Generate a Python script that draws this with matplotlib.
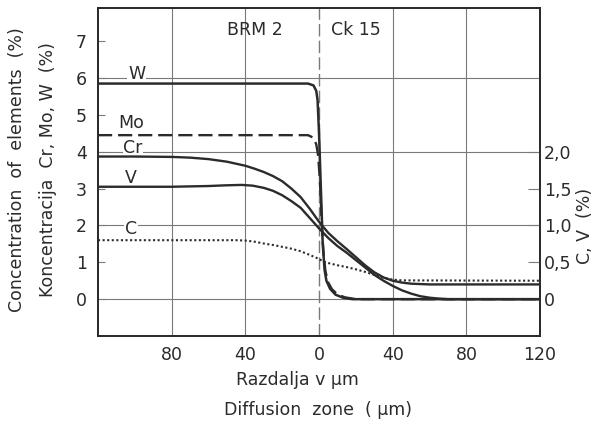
import numpy as np
import matplotlib.pyplot as plt

# distance from the interface (um), negative side = BRM 2, positive = Ck 15
w_x = [-120, -10, -6, -3, -1.5, -0.8, 0, 1, 2, 3, 4, 6, 9, 13, 18, 120]
w_y = [5.85, 5.85, 5.85, 5.8, 5.65, 5.4, 4.5, 3.0, 1.5, 0.8, 0.5, 0.28, 0.12, 0.04, 0.0, 0.0]

mo_x = [-120, -6, -3, -1.5, -0.5, 0.5, 1.5, 2.5, 3.5, 5, 7, 10, 14, 20, 120]
mo_y = [4.45, 4.45, 4.38, 4.2, 3.9, 3.2, 2.0, 1.2, 0.75, 0.45, 0.27, 0.13, 0.05, 0.0, 0.0]

cr_x = [-120, -100, -80, -70, -60, -50, -40, -35, -30, -25, -20, -15, -10, -5, 0, 5, 10,
        15, 20, 25, 30, 35, 40, 45, 50, 60, 120]
cr_y = [3.87, 3.87, 3.86, 3.84, 3.80, 3.73, 3.62, 3.54, 3.45, 3.34, 3.2, 3.0, 2.77, 2.45, 2.1,
        1.8, 1.57, 1.36, 1.14, 0.92, 0.73, 0.59, 0.5, 0.45, 0.42, 0.40, 0.40]

# V and C in % on the right-hand scale
v_x = [-120, -80, -60, -50, -42, -36, -30, -25, -20, -15, -10, -5, 0, 5, 10, 15, 20, 25,
       30, 35, 40, 45, 50, 55, 60, 65, 70, 120]
v_y = [1.525, 1.525, 1.535, 1.545, 1.55, 1.54, 1.51, 1.47, 1.41, 1.33, 1.24, 1.1, 0.96,
       0.83, 0.72, 0.63, 0.53, 0.43, 0.33, 0.25, 0.18, 0.12, 0.075, 0.04, 0.02, 0.008, 0.0, 0.0]

c_x = [-120, -45, -40, -35, -30, -25, -20, -15, -10, -5, 0, 2, 5, 10, 15, 20, 25, 30, 35,
       40, 45, 120]
c_y = [0.8, 0.8, 0.795, 0.78, 0.755, 0.735, 0.71, 0.685, 0.65, 0.6, 0.545, 0.515, 0.49,
       0.46, 0.435, 0.405, 0.37, 0.33, 0.29, 0.265, 0.255, 0.25]

x_ticks = [-80, -40, 0, 40, 80, 120]
x_ticklabels = ["80", "40", "0", "40", "80", "120"]
left_ticks = [0, 1, 2, 3, 4, 5, 6, 7]
right_ticks = [0, 0.5, 1.0, 1.5, 2.0]
right_ticklabels = ["0", "0,5", "1,0", "1,5", "2,0"]

ink = "#2b2b2b"
grid_col = "#7a7a7a"

plt.rcParams['font.family'] = ['DejaVu Sans']

fig = plt.figure(figsize=(5.95, 4.24), dpi=100)
ax = fig.add_axes([0.1647, 0.2075, 0.743, 0.7736])
ax.set_xlim(-120, 120)
ax.set_ylim(-1, 7.9)

# grid
for gx in [-80, -40, 40, 80]:
    ax.axvline(gx, color=grid_col, lw=0.8, zorder=0)
for gy in [0, 2, 4, 6]:
    ax.axhline(gy, color=grid_col, lw=0.8, zorder=0)
ax.axvline(0, color=grid_col, lw=1.0, ls=(0, (9, 3)), zorder=0)

ax.plot(w_x, w_y, color=ink, lw=1.8, zorder=3)
ax.plot(mo_x, mo_y, color=ink, lw=1.7, ls=(0, (6, 2.5)), zorder=3)
ax.plot(cr_x, cr_y, color=ink, lw=1.7, zorder=3)

ax2 = ax.twinx()
ax2.set_ylim(-0.5, 3.95)
ax2.plot(v_x, v_y, color=ink, lw=1.7, zorder=3)
ax2.plot(c_x, c_y, color=ink, lw=1.5, ls=(0, (1, 1.2)), zorder=3)

lab = dict(fontsize=12.5, color=ink, ha='center', va='center', zorder=1,
           bbox=dict(fc='white', ec='none', pad=0.5))
ax.text(-99, 6.1, "W", **lab)
ax.text(-102, 4.78, "Mo", **lab)
ax.text(-101, 4.1, "Cr", **lab)
ax.text(-102, 3.3, "V", **lab)
ax.text(-102, 1.9, "C", **lab)
ax.text(-35, 7.3, "BRM 2", fontsize=12.5, color=ink, ha='center', va='center')
ax.text(20, 7.3, "Ck 15", fontsize=12.5, color=ink, ha='center', va='center')

ax.set_xticks(x_ticks)
ax.set_xticklabels(x_ticklabels)
ax.set_yticks(left_ticks)
ax.tick_params(axis='x', length=0, pad=7, labelsize=12.5, labelcolor=ink)
ax.tick_params(axis='y', direction='in', length=5, width=0.8, color=grid_col,
               pad=8, labelsize=12.5, labelcolor=ink)
ax2.set_yticks(right_ticks)
ax2.set_yticklabels(right_ticklabels)
ax2.tick_params(axis='y', direction='in', length=9, width=0.8, color=grid_col,
                pad=3, labelsize=12.5, labelcolor=ink)

for a in (ax, ax2):
    for s in a.spines.values():
        s.set_color(ink)
        s.set_linewidth(1.3)

fig.text(0.5, 0.104, "Razdalja v µm", fontsize=12.5, color=ink, ha='center', va='center')
fig.text(0.535, 0.033, "Diffusion  zone  ( µm)", fontsize=12.5, color=ink, ha='center', va='center')
fig.text(0.029, 0.60, "Concentration  of  elements  (%)", fontsize=12.5, color=ink,
         rotation=90, ha='center', va='center')
fig.text(0.081, 0.60, "Koncentracija  Cr, Mo, W  (%)", fontsize=12.5, color=ink,
         rotation=90, ha='center', va='center')
fig.text(0.983, 0.467, "C, V  (%)", fontsize=12.5, color=ink,
         rotation=90, ha='center', va='center')

fig.savefig("out.png", dpi=100, facecolor='white')
